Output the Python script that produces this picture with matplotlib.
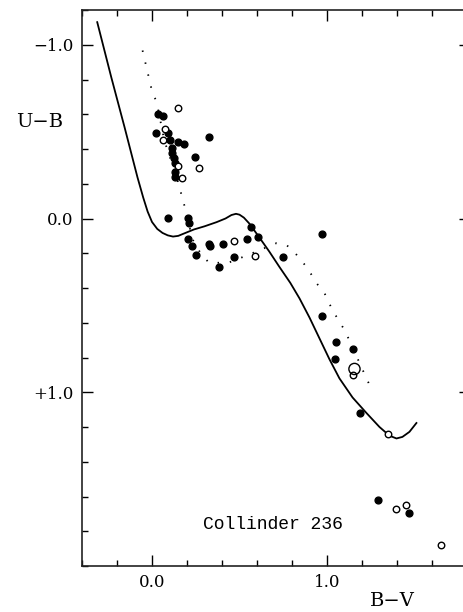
import matplotlib
matplotlib.use("Agg")
import matplotlib.pyplot as plt
from matplotlib.ticker import MultipleLocator

# Intrinsic (ZAMS) two-colour relation - solid line
zams_bv = [-0.313, -0.233, -0.157, -0.083, -0.05, -0.025, 0.0, 0.03, 0.06, 0.09,
           0.12, 0.15, 0.174, 0.24, 0.30, 0.369, 0.42, 0.454, 0.48, 0.50,
           0.525, 0.557, 0.614, 0.67, 0.729, 0.79, 0.843, 0.90, 0.957, 1.014,
           1.071, 1.146, 1.226, 1.30, 1.357, 1.397, 1.431, 1.471, 1.511]
zams_ub = [-1.13, -0.814, -0.526, -0.237, -0.12, -0.04, 0.02, 0.06, 0.083, 0.097,
           0.104, 0.10, 0.09, 0.063, 0.045, 0.021, 0.0, -0.02, -0.027, -0.022,
           -0.005, 0.03, 0.11, 0.19, 0.28, 0.37, 0.46, 0.57, 0.69, 0.81,
           0.92, 1.03, 1.12, 1.20, 1.25, 1.266, 1.257, 1.228, 1.177]

# Reddened relation - dotted line
red_bv = [-0.054, 0.003, 0.026, 0.07, 0.146, 0.191, 0.231, 0.283, 0.329, 0.443,
          0.546, 0.711, 0.769, 0.814, 0.889, 0.94, 0.986, 1.031, 1.10, 1.146,
          1.186, 1.243]
red_ub = [-0.967, -0.72, -0.674, -0.45, -0.22, -0.053, 0.119, 0.21, 0.257, 0.252,
          0.211, 0.142, 0.153, 0.194, 0.286, 0.372, 0.43, 0.527, 0.642, 0.74,
          0.832, 0.958]

# Observed stars, filled symbols
fill_bv = [0.037, 0.06, 0.02, 0.089, 0.10, 0.151, 0.18, 0.117, 0.117, 0.123,
           0.129, 0.134, 0.134, 0.243, 0.323, 0.089, 0.203, 0.209, 0.203, 0.231,
           0.249, 0.323, 0.334, 0.403, 0.38, 0.471, 0.54, 0.563, 0.603, 0.751,
           0.974, 0.974, 1.054, 1.043, 1.151, 1.186, 1.294, 1.466]
fill_ub = [-0.599, -0.588, -0.49, -0.49, -0.45, -0.438, -0.427, -0.404, -0.375, -0.347,
           -0.318, -0.266, -0.237, -0.352, -0.467, -0.002, -0.002, 0.027, 0.119, 0.159,
           0.211, 0.148, 0.159, 0.148, 0.28, 0.222, 0.119, 0.05, 0.107, 0.222,
           0.09, 0.561, 0.711, 0.809, 0.751, 1.119, 1.619, 1.694]

# Observed stars, open symbols
open_bv = [0.151, 0.077, 0.06, 0.151, 0.169, 0.271, 0.471, 0.591, 1.146, 1.346,
           1.397, 1.449, 1.654]
open_ub = [-0.634, -0.513, -0.45, -0.301, -0.232, -0.289, 0.13, 0.217, 0.90, 1.24,
           1.671, 1.648, 1.878]

# one larger open symbol
big_bv = [1.157]
big_ub = [0.866]

plt.rcParams['font.family'] = 'DejaVu Serif'

fig = plt.figure(figsize=(4.63, 6.12), dpi=100)
# right spine sits just past the image edge, as in the scanned original
ax = fig.add_axes([82 / 463, 46 / 612, 388 / 463, 556 / 612])

ax.plot(zams_bv, zams_ub, color='black', lw=1.3)
ax.plot(red_bv, red_ub, color='black', lw=1.3, linestyle=(0, (0.8, 6)))
ax.scatter(fill_bv, fill_ub, s=24, color='black', zorder=3)
ax.scatter(open_bv, open_ub, s=22, facecolor='white', edgecolor='black', lw=1.0, zorder=3)
ax.scatter(big_bv, big_ub, s=65, facecolor='none', edgecolor='black', lw=1.0, zorder=3)

ax.set_xlim(-0.4, -0.4 + 388 / 175)
ax.set_ylim(2.0, -1.2)

ax.xaxis.set_minor_locator(MultipleLocator(0.2))
ax.yaxis.set_minor_locator(MultipleLocator(0.2))
ax.set_xticks([0.0, 1.0])
ax.set_xticklabels(['0.0', '1.0'])
ax.set_yticks([-1.0, 0.0, 1.0])
ax.set_yticklabels(['\u22121.0', '0.0', '+1.0'])

ax.tick_params(which='both', direction='in', top=True, right=True, width=1.0,
               labelsize=12, pad=6)
ax.tick_params(which='major', length=8)
ax.tick_params(which='minor', length=4, right=False)
for s in ax.spines.values():
    s.set_linewidth(1.2)
    s.set_color('#222222')

fig.text(40 / 463, 1 - 122 / 612, 'U\u2212B', fontsize=14, ha='center', va='center')
fig.text(392 / 463, 1 - 601 / 612, 'B\u2212V', fontsize=14, ha='center', va='center')
# typewriter-style cluster name
ax.text(0.294, 1.763, 'Collinder 236', fontsize=13, ha='left', va='center',
        family='Liberation Mono')

fig.savefig('out.png', dpi=100)
